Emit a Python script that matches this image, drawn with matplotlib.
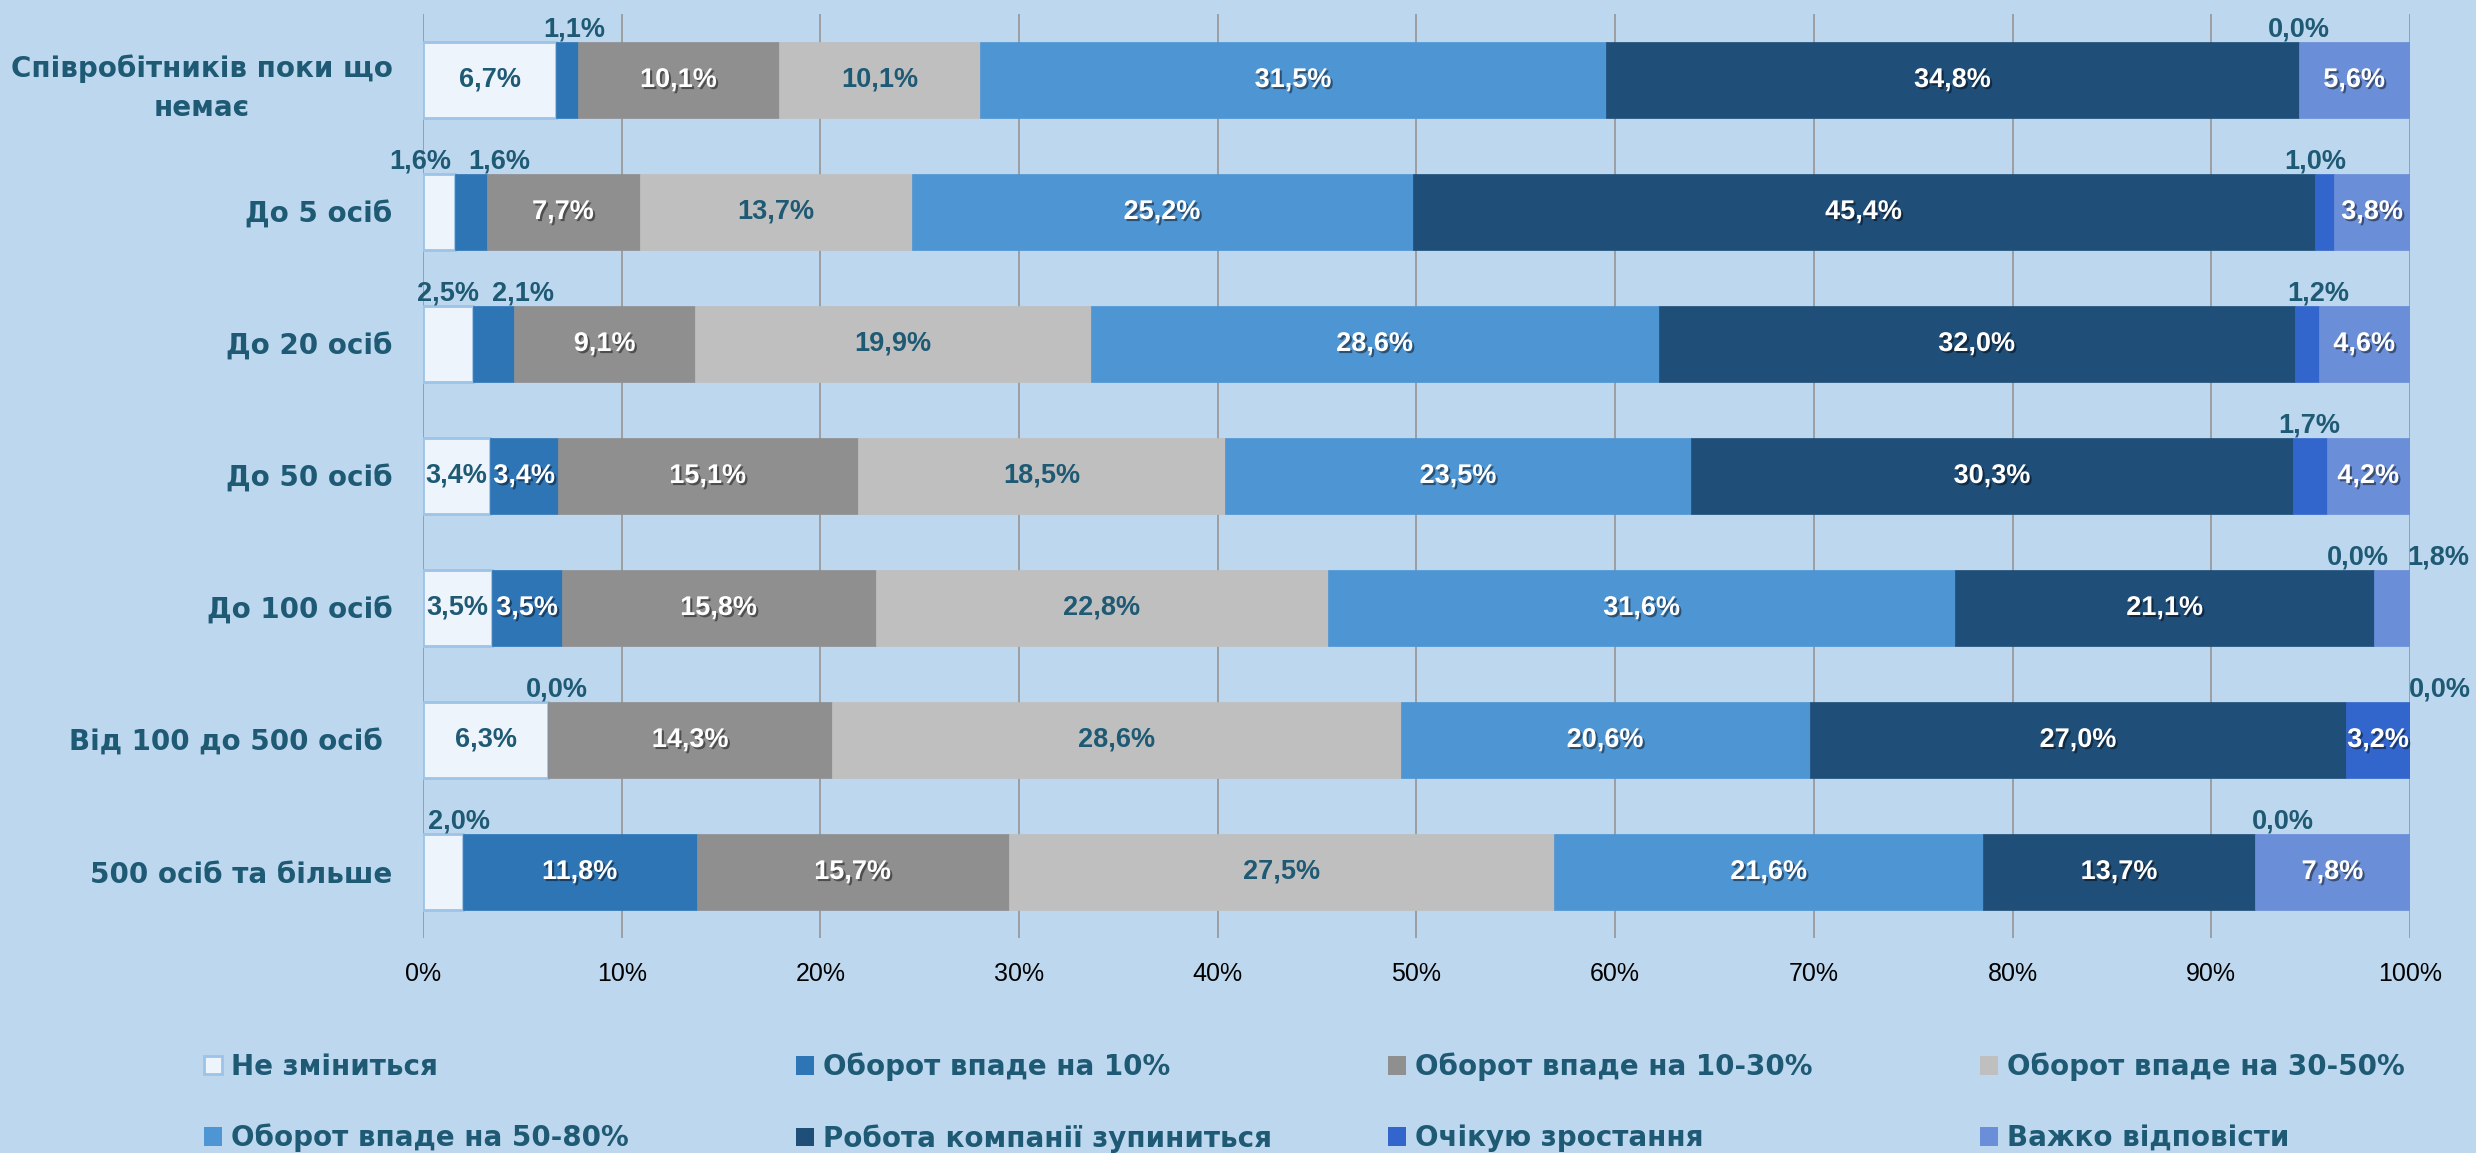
import numpy as np
import matplotlib
matplotlib.use('Agg')
import matplotlib.pyplot as plt
import matplotlib.patheffects as pe
from matplotlib.patches import Patch

# categories, top to bottom
categories = ['Співробітників поки що\nнемає', 'До 5 осіб', 'До 20 осіб', 'До 50 осіб',
              'До 100 осіб', 'Від 100 до 500 осіб ', '500 осіб та більше']

series_names = ['Не зміниться', 'Оборот впаде на 10%', 'Оборот впаде на 10-30%',
                'Оборот впаде на 30-50%', 'Оборот впаде на 50-80%',
                'Робота компанії зупиниться', 'Очікую зростання', 'Важко відповісти']

ne_zminytsia = [6.7, 1.6, 2.5, 3.4, 3.5, 6.3, 2.0]
vpade_10 = [1.1, 1.6, 2.1, 3.4, 3.5, 0.0, 11.8]
vpade_10_30 = [10.1, 7.7, 9.1, 15.1, 15.8, 14.3, 15.7]
vpade_30_50 = [10.1, 13.7, 19.9, 18.5, 22.8, 28.6, 27.5]
vpade_50_80 = [31.5, 25.2, 28.6, 23.5, 31.6, 20.6, 21.6]
zupynytsia = [34.8, 45.4, 32.0, 30.3, 21.1, 27.0, 13.7]
zrostannia = [0.0, 1.0, 1.2, 1.7, 0.0, 3.2, 0.0]
vazhko = [5.6, 3.8, 4.6, 4.2, 1.8, 0.0, 7.8]

xticks = np.arange(0, 101, 10)
xtick_labels = ['%d%%' % t for t in xticks]

# styles
colors = ['#EEF4FB', '#2E75B6', '#8F8F8F', '#BFBFBF', '#4E95D3', '#1F4E79', '#3366CC', '#6A8ED8']
edges = ['#9DC3E6', '#2E75B6', '#8F8F8F', '#BFBFBF', '#4E95D3', '#1F4E79', '#3366CC', '#6A8ED8']
white_lbl = [False, True, True, False, True, True, True, True]
bg = '#BDD7EE'
teal = '#1F5A75'
# nudges (pixels) for the small labels sitting above the bars: (row, series) -> dx
nudge = {(0, 1): 7, (1, 0): -19, (1, 1): 29, (1, 6): -9, (2, 1): 29, (2, 6): 12,
         (4, 6): -16, (4, 7): 46, (5, 1): 9, (5, 7): 30, (6, 0): 16, (6, 6): 28}

values = np.array([ne_zminytsia, vpade_10, vpade_10_30, vpade_30_50,
                   vpade_50_80, zupynytsia, zrostannia, vazhko])
totals = values.sum(axis=0)

fig = plt.figure(figsize=(24.76, 11.53), dpi=100, facecolor=bg)
ax = fig.add_axes([0.17084, 0.18647, 0.80250, 0.80139])
ax.set_facecolor(bg)

y = np.arange(len(categories))
bh = 0.57
lbl_size = 19.5
left = np.zeros(len(categories))
for i in range(len(series_names)):
    w = values[i] / totals * 100
    ax.barh(y, w, left=left, height=bh, color=colors[i], edgecolor=edges[i],
            lw=2 if i == 0 else 0.5, zorder=3)
    for j in range(len(categories)):
        v = values[i][j]
        txt = ('%.1f%%' % v).replace('.', ',')
        xc = left[j] + w[j] / 2
        if v < 3:
            ax.annotate(txt, (xc, y[j] - bh / 2), xytext=(nudge.get((j, i), 0), 0),
                        textcoords='offset pixels', ha='center', va='bottom',
                        color=teal, fontsize=lbl_size, fontweight='bold',
                        family='Liberation Sans', annotation_clip=False, zorder=5)
        elif white_lbl[i]:
            ax.text(xc, y[j], txt, ha='center', va='center', color='white',
                    fontsize=lbl_size, fontweight='bold', family='Liberation Sans', zorder=5,
                    path_effects=[pe.withSimplePatchShadow(offset=(1.5, -1.5),
                                                           shadow_rgbFace='black', alpha=0.45)])
        else:
            ax.text(xc, y[j], txt, ha='center', va='center', color=teal,
                    fontsize=lbl_size, fontweight='bold', family='Liberation Sans', zorder=5)
    left += w

ax.set_xlim(0, 100)
ax.set_ylim(len(categories) - 0.5, -0.5)
ax.set_xticks(xticks)
ax.set_xticklabels(xtick_labels, fontsize=18, family='Liberation Sans', color='black')
ax.set_yticks(y)
ax.set_yticklabels(categories, fontsize=20, fontweight='bold', family='DejaVu Sans',
                   color=teal, multialignment='center', linespacing=1.5)
ax.tick_params(axis='y', length=0, pad=22)
ax.tick_params(axis='x', length=0, pad=17)
ax.set_axisbelow(True)
ax.xaxis.grid(True, color='#9A9A9A', lw=1.3)
for s in ax.spines.values():
    s.set_visible(False)

# legend: 4 columns x 2 rows, row-major order
handles = [Patch(facecolor=colors[i], edgecolor=edges[i], lw=2 if i == 0 else 0)
           for i in range(len(series_names))]
col_x = [204, 796, 1388, 1980]
for c in range(4):
    idx = [c, c + 4]
    leg = fig.legend([handles[k] for k in idx], [series_names[k] for k in idx],
                     loc='center left', bbox_to_anchor=(col_x[c] / 2476, 1 - 1102.5 / 1153),
                     frameon=False, borderpad=0, borderaxespad=0,
                     handlelength=0.66, handleheight=0.66, handletextpad=0.3,
                     labelspacing=1.55,
                     prop={'family': 'DejaVu Sans', 'weight': 'bold', 'size': 20})
    for t in leg.get_texts():
        t.set_color(teal)

fig.savefig('out.png', dpi=100, facecolor=bg)
